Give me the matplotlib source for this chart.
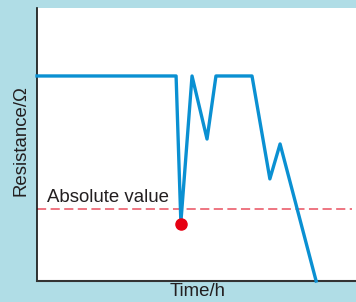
import matplotlib.pyplot as plt

plt.rcParams['font.family'] = ['Liberation Sans', 'DejaVu Sans']

# resistance trace (arbitrary units)
time = [0, 43.6, 45.1, 48.6, 53.3, 56.1, 67.4, 73.0, 76.2, 87.5]
resistance = [75.1, 75.1, 21.5, 75.1, 52.0, 75.1, 75.1, 37.4, 50.2, 0]
absolute_value = 26.4
point_time = [45.2]
point_res = [20.9]

fig = plt.figure(figsize=(3.56, 3.02), dpi=100, facecolor='#b0dde6')
ax = fig.add_axes([37 / 356, 21 / 302, 319 / 356, 273 / 302])
ax.set_facecolor('white')

ax.plot(time, resistance, color='#0a90d2', lw=2.4, solid_joinstyle='round', clip_on=False, zorder=3)
ax.plot([0, 98.7], [absolute_value] * 2, color='#e9505f', lw=1.1, dashes=(6, 2.9))
ax.plot(point_time, point_res, 'o', color='#e60012', ms=8, zorder=4, clip_on=False)
ax.text(3.1, 28.9, 'Absolute value', fontsize=13.4, color='#231f20', va='baseline')

ax.set_xlim(0, 100)
ax.set_ylim(0, 100)
ax.set_xticks([])
ax.set_yticks([])
for s in ['top', 'right']:
    ax.spines[s].set_visible(False)
ax.spines['left'].set_color('#111111')
ax.spines['bottom'].set_color('#333333')
ax.spines['left'].set_linewidth(1.2)
ax.spines['bottom'].set_linewidth(1.5)

fig.text(21 / 356, 1 - 141 / 302, 'Resistance/Ω', rotation=90, fontsize=13.4,
         ha='center', va='center', color='#231f20')
fig.text(198 / 356, 1 - 291 / 302, 'Time/h', fontsize=13.4,
         ha='center', va='center', color='#231f20')

fig.savefig('out.png', dpi=100, facecolor=fig.get_facecolor())
